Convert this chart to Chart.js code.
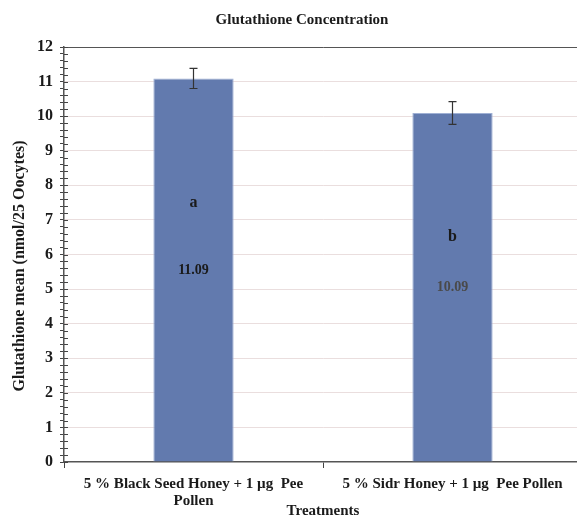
<!DOCTYPE html>
<html>
<head>
<meta charset="utf-8">
<script src="https://cdn.jsdelivr.net/npm/chart.js@4/dist/chart.umd.min.js"></script>
<style>
  html, body { margin: 0; padding: 0; background: #fff; overflow: hidden; }
  #wrap { width: 600px; height: 520px; }
</style>
</head>
<body>
<div id="wrap"><canvas id="glut"></canvas></div>
<script>
// values
var treatments = [
    ['5 % Black Seed Honey + 1 \u00b5g  Pee', 'Pollen'],
    '5 % Sidr Honey + 1 \u00b5g  Pee Pollen'
];
var glutMean = [11.09, 10.09];
var glutErr = [0.29, 0.33];
var sigLetters = ['a', 'b'];
var valueLabels = ['11.09', '10.09'];
var chartTitle = 'Glutathione Concentration';
var yTitle = 'Glutathione mean (nmol/25 Oocytes)';

var serif = '"Liberation Serif", "Times New Roman", serif';

// titles sit a little off the plot centre, like the original
var titles = {
    id: 'titles',
    afterDraw: function(chart) {
        var ctx = chart.ctx;
        ctx.save();
        ctx.fillStyle = '#1a1a1a';
        ctx.textAlign = 'center';
        ctx.textBaseline = 'middle';
        ctx.font = 'bold 15px ' + serif;
        ctx.fillText(chartTitle, 302, 20);
        ctx.translate(20, 266);
        ctx.rotate(-Math.PI / 2);
        ctx.font = 'bold 16px ' + serif;
        ctx.fillText(yTitle, 0, 0);
        ctx.restore();
    }
};

// y tick marks cross the axis line
var crossTicks = {
    id: 'crossTicks',
    afterDraw: function(chart) {
        var ctx = chart.ctx;
        var y = chart.scales.y;
        var x0 = chart.chartArea.left;
        ctx.save();
        ctx.strokeStyle = '#444';
        ctx.lineWidth = 1;
        ctx.beginPath();
        y.ticks.forEach(function(t) {
            var py = Math.round(y.getPixelForValue(t.value)) + 0.5;
            ctx.moveTo(x0, py);
            ctx.lineTo(x0 + 4, py);
        });
        ctx.stroke();
        ctx.restore();
    }
};

// error bars, significance letter and value inside each bar
var barExtras = {
    id: 'barExtras',
    afterDatasetsDraw: function(chart) {
        var ctx = chart.ctx;
        var y = chart.scales.y;
        var meta = chart.getDatasetMeta(0);
        ctx.save();
        meta.data.forEach(function(bar, i) {
            var top = y.getPixelForValue(glutMean[i] + glutErr[i]);
            var bot = y.getPixelForValue(glutMean[i] - glutErr[i]);
            ctx.strokeStyle = '#333';
            ctx.lineWidth = 1.2;
            ctx.beginPath();
            ctx.moveTo(bar.x, top); ctx.lineTo(bar.x, bot);
            ctx.moveTo(bar.x - 4, top); ctx.lineTo(bar.x + 4, top);
            ctx.moveTo(bar.x - 4, bot); ctx.lineTo(bar.x + 4, bot);
            ctx.stroke();

            ctx.textAlign = 'center';
            ctx.textBaseline = 'middle';
            var letterY = y.getPixelForValue(glutMean[i] * (i === 0 ? 0.675 : 0.645));
            ctx.fillStyle = '#1a1a1a';
            ctx.font = 'bold 16px ' + serif;
            ctx.fillText(sigLetters[i], bar.x, letterY);
            ctx.fillStyle = i === 0 ? '#1a1a1a' : '#4a4a4a';
            ctx.font = 'bold 14px ' + serif;
            ctx.fillText(valueLabels[i], bar.x, y.getPixelForValue(glutMean[i] / 2));
        });
        ctx.restore();
    }
};

new Chart(document.getElementById('glut'), {
    type: 'bar',
    data: {
        labels: treatments,
        datasets: [{
            label: 'Glutathione',
            data: glutMean,
            backgroundColor: '#627aae',
            borderColor: '#9fb0d4',
            borderWidth: 1,
            barPercentage: 0.31,
            categoryPercentage: 1
        }]
    },
    options: {
        responsive: true,
        maintainAspectRatio: false,
        animation: false,
        layout: { padding: { left: 10, right: 18, top: 47, bottom: 0 } },
        plugins: {
            legend: { display: false },
            tooltip: { enabled: false },
            title: { display: false }
        },
        scales: {
            x: {
                grid: {
                    drawOnChartArea: false,
                    offset: true,
                    tickLength: 6,
                    tickColor: '#444'
                },
                border: { color: '#555', width: 1.5 },
                ticks: {
                    color: '#1a1a1a',
                    padding: 8,
                    font: { family: serif, size: 15, weight: 'bold', lineHeight: 1.1 }
                },
                title: {
                    display: true,
                    text: 'Treatments',
                    color: '#1a1a1a',
                    padding: { top: 0, bottom: 0 },
                    font: { family: serif, size: 15, weight: 'bold' }
                },
                afterFit: function(s) { s.height = 58; }
            },
            y: {
                min: 0,
                max: 12,
                grid: {
                    tickLength: 4,
                    tickColor: '#444',
                    color: function(c) {
                        var v = Math.round(c.tick.value * 10) / 10;
                        if (v === 12) return '#555';
                        if (v === 0) return 'rgba(0,0,0,0)';
                        return Number.isInteger(v) ? '#eadede' : 'rgba(0,0,0,0)';
                    }
                },
                border: { color: '#555', width: 1.5 },
                ticks: {
                    stepSize: 0.2,
                    autoSkip: false,
                    padding: 7,
                    color: '#1a1a1a',
                    font: { family: serif, size: 16, weight: 'bold' },
                    callback: function(v) {
                        var r = Math.round(v * 10) / 10;
                        return Number.isInteger(r) ? String(r) : '';
                    }
                },
                afterFit: function(s) { s.width = 54; }
            }
        }
    },
    plugins: [barExtras, crossTicks, titles]
});
</script>
</body>
</html>
